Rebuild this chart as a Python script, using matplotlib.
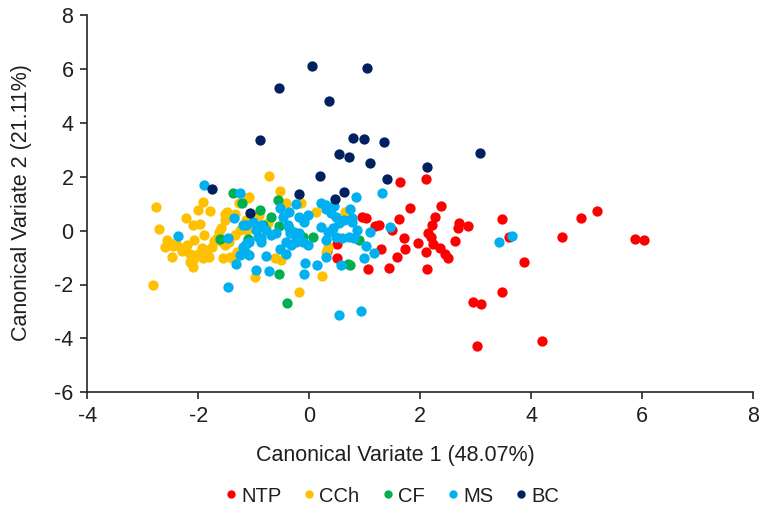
import matplotlib
matplotlib.use("Agg")
import matplotlib.pyplot as plt
from matplotlib.lines import Line2D

plt.rcParams['font.family'] = ['Liberation Sans', 'DejaVu Sans']

groups = ["NTP", "CCh", "CF", "MS", "BC"]
colors = ["#FF0000", "#FFC000", "#00B050", "#00B0F0", "#002060"]

ntp_x = [1.64, 2.11, 1.82, 2.37, 0.96, 1.02, 1.61, 2.27, 2.21, 2.70, 2.87, 2.68, 1.18, 1.26,
         1.49, 2.15, 2.19, 1.70, 1.97, 2.62, 2.24, 2.35, 2.45, 2.51, 1.73, 2.11, 1.58, 1.30,
         1.44, 2.13, 1.06, 3.47, 3.61, 3.88, 4.55, 4.90, 5.19, 5.87, 6.03, 3.48, 2.96, 3.10,
         3.02, 4.20, 0.50, 0.50, 0.32]
ntp_y = [1.82, 1.92, 0.85, 0.91, 0.49, 0.45, 0.44, 0.50, 0.20, 0.27, 0.18, 0.10, 0.18, 0.20,
         0.02, -0.10, -0.25, -0.29, -0.45, -0.37, -0.48, -0.64, -0.85, -1.03, -0.69, -0.79, -0.97, -0.69,
         -1.38, -1.41, -1.44, 0.44, -0.23, -1.16, -0.23, 0.46, 0.74, -0.31, -0.35, -2.29, -2.65, -2.71,
         -4.28, -4.11, -0.48, -1.01, -0.76]

cch_x = [-2.76, -2.71, -2.81, -1.92, -2.00, -1.78, -2.22, -2.09, -1.97, -1.59, -1.63, -1.52, -2.57, -2.60,
         -2.45, -2.48, -2.07, -1.89, -2.15, -2.09, -2.00, -1.94, -1.85, -1.76, -2.09, -2.15, -1.80, -1.92,
         -1.67, -1.58, -1.52, -1.44, -1.34, -1.25, -1.13, -1.31, -1.43, -1.55, -1.34, -1.48, -0.72, -0.53,
         -1.10, 0.12, -1.02, -0.62, -0.50, 0.23, -0.18, 0.33, 0.30, 0.65, -0.42, -0.90, -0.75, -0.81,
         -1.14, -0.98, -2.51, -2.39, -1.51, -1.40, -1.08, -1.27, -0.14, -2.30, -2.20, -1.72]
cch_y = [0.89, 0.06, -2.00, 1.05, 0.76, 0.72, 0.48, 0.20, 0.23, 0.10, -0.07, 0.39, -0.35, -0.60,
         -0.58, -0.97, -0.35, -0.17, -0.88, -1.09, -0.85, -0.66, -0.72, -0.60, -1.34, -1.18, -0.97, -1.03,
         -0.29, -0.41, -0.54, -0.44, -0.17, 0.02, 0.02, -0.79, -0.97, -1.03, 0.60, 0.70, 2.02, 1.47,
         1.22, 0.68, 0.08, -1.03, -1.09, -1.70, -2.28, -0.60, -0.81, 0.70, 1.01, 0.57, 0.27, 0.08,
         0.39, -1.74, -0.45, -0.53, 0.60, -1.03, 1.26, 1.01, 1.01, -0.75, -0.55, -0.40]

cf_x = [-1.37, -1.21, -1.61, -0.56, -0.89, -0.68, -0.55, 0.07, -0.11, -0.55, 0.70, -1.10, 0.89, 0.73,
        -0.40, -0.83]
cf_y = [1.38, 1.01, -0.31, 1.13, 0.76, 0.51, 0.17, -0.22, -0.22, -1.62, -1.25, -0.31, -0.35, -1.26,
        -2.70, 0.21]

ms_x = [-1.89, -2.36, -1.35, -1.46, -1.19, -1.14, -1.17, -1.25, -1.32, -1.46, -1.25, 0.84, 1.32, 0.30,
        0.45, -0.24, -0.36, -0.18, -0.03, -0.09, -0.36, -0.27, -0.18, -0.24, -0.12, -0.03, -0.33, -0.42,
        0.21, 0.33, 0.43, 0.54, 0.63, 0.78, 0.48, 0.60, 0.72, 0.30, -0.87, -0.78, -0.69, -0.60,
        -0.93, -0.87, -1.14, -1.08, -0.53, -0.41, -0.78, -0.96, -0.72, -0.07, 0.14, -0.09, 0.30, 0.57,
        -1.08, 0.53, 0.94, 1.09, 1.02, 1.17, 0.98, 0.86, 0.80, 0.78, 0.73, 1.45, 3.43, 3.66,
        -0.53, -0.47, -0.38, -0.35, -0.23, -1.01, -0.95, -0.86, -1.19, -1.14, 0.22, 0.31, 0.40, 0.49]
ms_y = [1.69, -0.20, 0.45, -0.26, 0.20, -0.51, -0.78, -0.91, -1.25, -2.08, 1.38, 1.26, 1.38, 0.95,
        0.92, 0.97, 0.70, 0.51, 0.58, 0.33, 0.08, -0.04, -0.10, -0.42, -0.42, -0.54, -0.54, -0.42,
        0.14, -0.04, 0.08, 0.27, 0.39, 0.33, -0.22, -0.28, -0.22, -0.35, 0.21, 0.02, -0.17, -0.10,
        -0.22, -0.41, 0.21, -0.41, -0.69, -0.88, -0.93, -1.47, -1.50, -1.22, -1.28, -1.62, -0.97, -1.26,
        -0.91, -3.13, -2.98, -0.07, -0.56, -0.82, -1.01, 0.02, -0.29, 0.45, 0.82, 0.14, -0.42, -0.19,
        0.83, 0.52, 0.21, -0.10, -0.29, 0.33, 0.02, -0.29, -0.60, -0.84, 1.01, 0.82, 0.64, 0.52]

bc_x = [0.05, 1.04, -0.55, 0.35, -0.88, 0.79, 0.99, 1.34, 0.54, 0.72, 1.10, 0.20, 1.41, -1.76,
        -0.18, 0.62, 0.46, 3.07, 2.12, -1.07]
bc_y = [6.09, 6.03, 5.29, 4.81, 3.35, 3.43, 3.40, 3.30, 2.83, 2.73, 2.50, 2.03, 1.93, 1.55,
        1.35, 1.45, 1.19, 2.87, 2.37, 0.67]

series_x = [ntp_x, cch_x, cf_x, ms_x, bc_x]
series_y = [ntp_y, cch_y, cf_y, ms_y, bc_y]

x_ticks = [-4, -2, 0, 2, 4, 6, 8]
y_ticks = [-6, -4, -2, 0, 2, 4, 6, 8]

txt = '#1f1f1f'
fig = plt.figure(figsize=(7.6, 5.18), dpi=100)
ax = fig.add_axes([87.3 / 760, 1 - 392.3 / 518, (753 - 87.3) / 760, (392.3 - 15) / 518])

for xs, ys, c in zip(series_x, series_y, colors):
    ax.scatter(xs, ys, s=55, color=c, linewidths=0, zorder=3)

ax.set_xlim(-4, 8)
ax.set_ylim(-6, 8)
ax.set_xticks(x_ticks)
ax.set_yticks(y_ticks)
ax.set_xticklabels([str(v) for v in x_ticks])
ax.set_yticklabels([str(v) for v in y_ticks])
for s in ['top', 'right']:
    ax.spines[s].set_visible(False)
for s in ['left', 'bottom']:
    ax.spines[s].set_linewidth(1.2)
    ax.spines[s].set_color('#262626')
    ax.spines[s].set_clip_on(False)
ax.tick_params(direction='out', length=5, width=1.2, color='#262626',
               labelsize=15.5, labelcolor=txt, pad=5)

fig.text(395 / 760, 1 - 456 / 518, 'Canonical Variate 1 (48.07%)', ha='center', va='center',
         fontsize=15.5, color=txt)
fig.text(22 / 760, 1 - 203 / 518, 'Canonical Variate 2 (21.11%)', ha='center', va='center',
         rotation=90, fontsize=15.5, color=txt)

handles = [Line2D([], [], marker='o', linestyle='none', markersize=6, markerfacecolor=c,
                  markeredgewidth=0) for c in colors]
fig.legend(handles, groups, loc='center', bbox_to_anchor=(390 / 760, 1 - 496 / 518), ncol=5,
           frameon=False, fontsize=14.5, handletextpad=0.0, columnspacing=0.9,
           handlelength=1.0, labelcolor=txt)

fig.savefig('out.png', dpi=100)
